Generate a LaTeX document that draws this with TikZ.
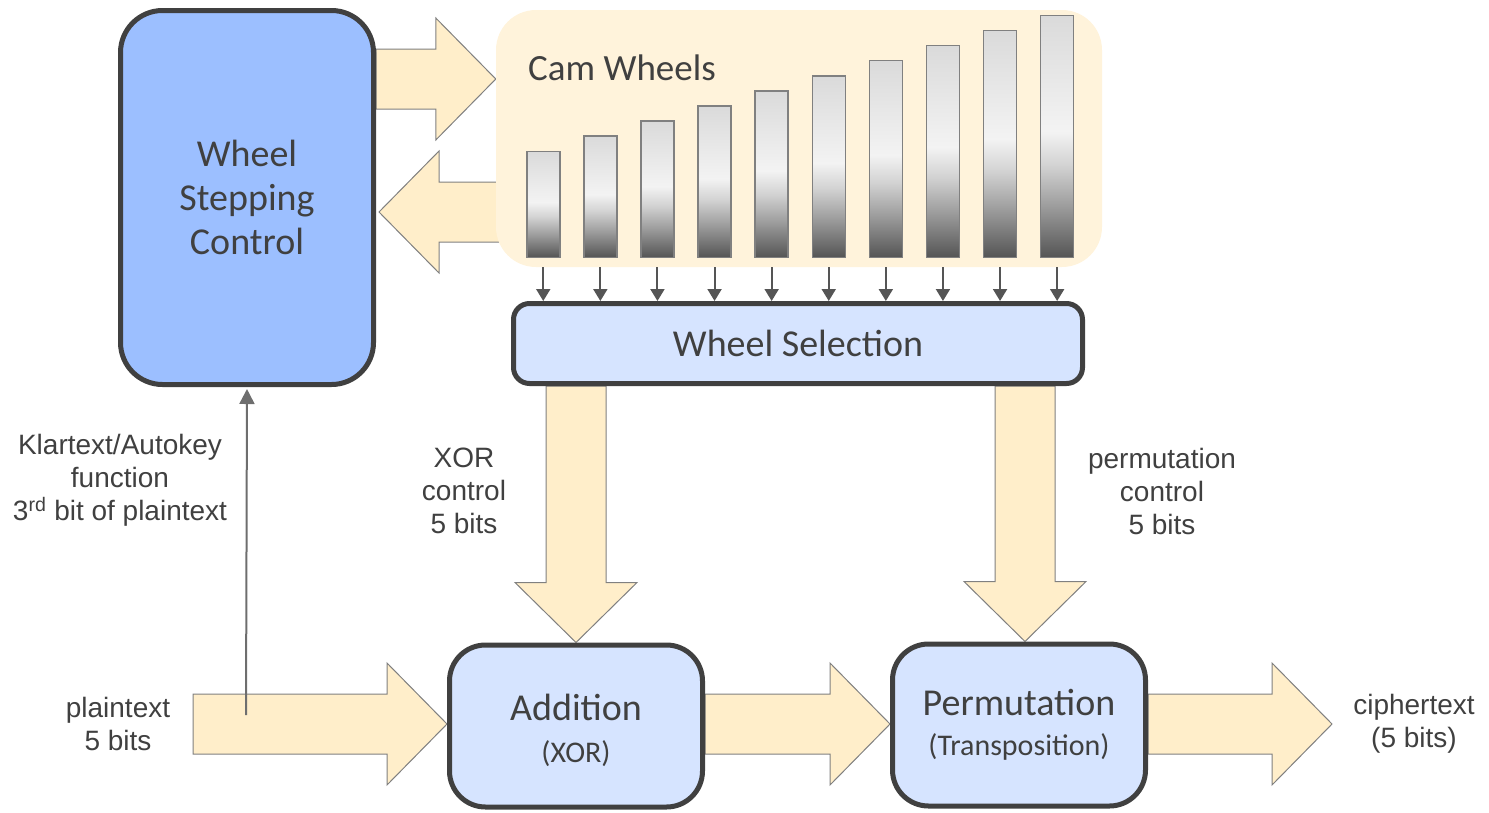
\documentclass[tikz,border=0pt]{standalone}
\usepackage{fontspec}
\setmainfont{Carlito}
\newfontfamily\labelfont{Liberation Sans}
\usetikzlibrary{arrows.meta,calc,backgrounds}

\definecolor{boxline}{HTML}{404040}
\definecolor{stepblue}{HTML}{9CBFFF}
\definecolor{paleblue}{HTML}{D6E4FF}
\definecolor{camcream}{HTML}{FFF3DB}
\definecolor{flowfill}{HTML}{FFEECA}
\definecolor{flowline}{HTML}{808080}
\definecolor{textgray}{HTML}{404040}
\definecolor{tapgray}{HTML}{6E6E6E}
\definecolor{wheeltop}{HTML}{DADADA}
\definecolor{wheelmid}{HTML}{F3F3F3}
\definecolor{wheelbot}{HTML}{555555}

\pgfdeclareverticalshading{wheelshade}{100bp}{color(0bp)=(wheelbot); color(25bp)=(wheelbot); color(36bp)=(gray!75); color(44bp)=(gray!35); color(51bp)=(wheelmid); color(75bp)=(wheeltop); color(100bp)=(wheeltop)}

% wide arrow from #1 to #2
\newcommand{\fatarrow}[2]{%
  \path let \p1=#1, \p2=#2, \n1={atan2(\y2-\y1,\x2-\x1)}, \n2={veclen(\x2-\x1,\y2-\y1)} in
    [flow, shift={(\p1)}, rotate=\n1]
    (0,-30) -- (\n2-60,-30) -- (\n2-60,-61) -- (\n2,0) -- (\n2-60,61) -- (\n2-60,30) -- (0,30) -- cycle;
}

\begin{document}
\begin{tikzpicture}[x=1pt,y=-1pt,
    flow/.style={fill=flowfill, draw=flowline, line width=1},
    camtick/.style={draw=wheelbot, line width=2, -{Triangle[width=14,length=12]}},
    tap/.style={draw=tapgray, line width=2, -{Triangle[width=15,length=15]}}]

  \useasboundingbox (0,0) rectangle (1489,812);

  \begin{scope}[every node/.style={draw=boxline, line width=5, text=textgray, align=center, font=\fontsize{38}{44}\selectfont}]
    \node[fill=stepblue, rounded corners=42, minimum width=253, minimum height=374] (wsc) at (247,197.5) {Wheel\\Stepping\\Control};
    \node[fill=paleblue, rounded corners=16, minimum width=569, minimum height=80] (wsel) at (798,343.5) {Wheel Selection};
    \node[fill=paleblue, rounded corners=36, minimum width=253, minimum height=162] (addn) at (576,726) {\\[-8pt]Addition\\[-2pt]{\fontsize{30}{34}\selectfont (XOR)}};
    \node[fill=paleblue, rounded corners=36, minimum width=253, minimum height=162] (perm) at (1019,725) {Permutation\\[-4pt]{\fontsize{30}{34}\selectfont (Transposition)}};
  \end{scope}

  % cam wheel panel
  \node[fill=camcream, rounded corners=40, minimum width=606, minimum height=257] (cam) at (799,138.5) {};
  \node[anchor=base west, text=textgray, font=\fontsize{37}{40}\selectfont, inner sep=0] (camtitle) at (528,80) {Cam Wheels};
  \foreach \i in {0,...,9}
    \node[shading=wheelshade, draw=flowline, line width=1.5, inner sep=0, minimum width=33, minimum height={106+15.1*\i}, anchor=south west] (wheel\i) at ({526+57.1*\i},258) {};
  \foreach \i in {0,...,9}
    \draw[camtick] (wheel\i.south |- cam.south) -- (wheel\i.south |- wsel.north);

  \coordinate (ptin) at (193,724);
  \coordinate (ctout) at (1332,724);
  \coordinate (tap) at (246,715);

  % wide arrows, under the boxes
  \begin{scope}[on background layer]
    \fatarrow{(wsc.east |- 0,79)}{(cam.west |- 0,79)}
    \fatarrow{([xshift=10]cam.west |- 0,212)}{([xshift=3]wsc.east |- 0,212)}
    \fatarrow{(wsel.south -| addn.north)}{(addn.north)}
    \fatarrow{([xshift=6]perm.north |- wsel.south)}{([xshift=6]perm.north)}
    \fatarrow{(ptin)}{(ptin -| addn.west)}
    \fatarrow{(ptin -| addn.east)}{(ptin -| perm.west)}
    \fatarrow{(ptin -| perm.east)}{(ctout)}
  \end{scope}

  \draw[tap, shorten >=2] (tap) -- (wsc.south);

  \begin{scope}[every node/.style={text=textgray, align=center, font=\labelfont\fontsize{28}{33}\selectfont}]
    \node (autokey) at (120,480) {Klartext/Autokey\\function\\3\textsuperscript{rd} bit of plaintext};
    \node (xorlbl) at (464,491) {XOR\\control\\5 bits};
    \node (permlbl) at (1162,491) {permutation\\control\\5 bits};
    \node (ptlbl) at (118,724) {plaintext\\5 bits};
    \node (ctlbl) at (1414,724) {ciphertext\\(5 bits)};
  \end{scope}

\end{tikzpicture}
\end{document}
